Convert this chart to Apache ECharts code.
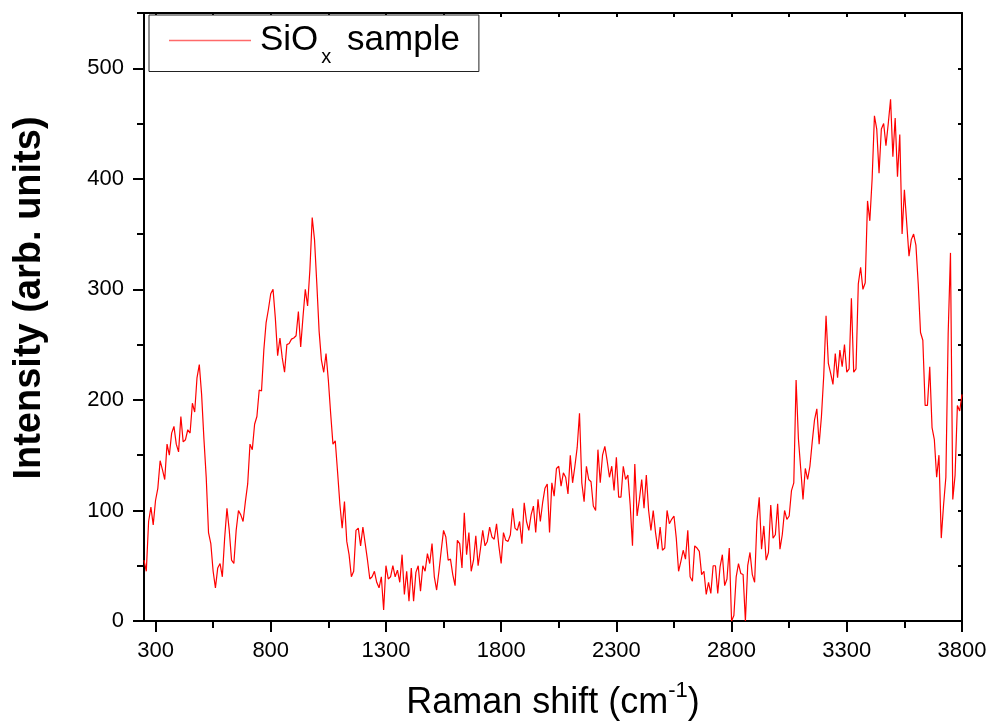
<!DOCTYPE html>
<html>
<head>
<meta charset="utf-8">
<script src="https://cdn.jsdelivr.net/npm/echarts@6/dist/echarts.min.js"></script>
<style>html,body{margin:0;padding:0;background:#fff}#c{width:991px;height:728px}</style>
</head>
<body>
<div id="c"></div>
<script>
// Raman spectrum sampling grid (cm^-1)
const xStart = 250;
const xStep = 10;
const xMin = 250;
const xMax = 3800;
const yMin = 0;
const yMax = 550;

// Intensity values (arb. units), in order along the grid
const seg250to860 = [55,45,90,103,87,109,120,145,137,128,160,150,170,176,160,153,185,162,164,173,170,197,189,220,232,205,165,130,80,70,45,30,48,52,40,75,102,82,55,52,82,100,96,90,108,124,160,155,178,185,209,208,245,270,282,296,300,274,240,256,238,225];
const seg870to1470 = [250,251,255,256,258,280,248,275,300,285,318,365,345,305,262,236,225,242,218,188,160,163,135,106,84,108,72,60,40,45,82,84,68,85,70,55,38,40,45,35,30,40,10,50,38,40,50,40,46,35,60,24,45,18,48,18,44,50,27,50,45];
const seg1480to2080 = [61,52,70,40,28,45,64,82,76,55,56,42,32,73,70,48,98,60,80,45,55,77,50,65,82,68,72,85,76,74,88,68,52,80,73,72,78,102,84,82,90,70,107,90,82,96,104,80,110,90,107,120,124,80,125,113,138,140,122,134,130];
const seg2090to2690 = [115,150,125,140,157,188,125,108,140,128,126,104,100,155,125,150,158,145,130,140,118,148,112,112,140,128,132,105,68,142,95,110,128,102,132,100,82,100,80,65,85,64,66,100,88,92,95,75,45,54,64,56,82,40,36,68,66,63,42,45,24];
const seg2700to3300 = [35,25,50,50,25,49,60,32,38,66,0,5,40,52,43,42,0,50,62,42,35,90,112,65,86,55,62,105,75,78,106,65,78,100,92,95,118,125,218,165,138,110,138,128,140,162,182,192,160,185,222,276,233,224,214,242,220,245,230,250,225];
const seg3310to3800 = [228,292,225,228,305,320,300,306,380,362,400,457,445,405,445,450,430,450,472,420,455,402,440,350,390,360,330,345,350,340,305,261,254,195,195,230,175,164,130,150,75,105,130,260,333,110,132,195,190,205];

// Tick positions
const xMajorTicks = [300,800,1300,1800,2300,2800,3300,3800];
const xMinorTicks = [550,1050,1550,2050,2550,3050,3550];
const xTopTicks = [300,550,800,1050,1300,1550,1800,2050,2300,2550,2800,3050,3300,3550,3800];
const yMajorTicks = [0,100,200,300,400,500];
const yMinorTicks = [50,150,250,350,450,550];
const yRightTicks = [0,50,100,150,200,250,300,350,400,450,500,550];

const seriesName = 'SiOx sample';

const intensity = seg250to860.concat(seg870to1470, seg1480to2080, seg2090to2690, seg2700to3300, seg3310to3800);
const lineData = intensity.map((v, i) => [xStart + i * xStep, v]);

const FONT = 'Arial, "Liberation Sans", sans-serif';
const BLACK = '#000';
const plain = v => String(v);

function blankAxis(extra) {
  return Object.assign({
    type: 'value',
    axisLine: { show: false, onZero: false },
    axisLabel: { show: false },
    splitLine: { show: false },
    silent: true
  }, extra);
}

const chart = echarts.init(document.getElementById('c'), null, { renderer: 'canvas' });
chart.setOption({
  animation: false,
  backgroundColor: '#fff',
  grid: { left: 144, right: 29, top: 13, bottom: 107, outerBoundsMode: 'none' },
  legend: {
    show: true,
    data: [{ name: seriesName, icon: 'rect' }],
    left: 149,
    top: 15,
    orient: 'horizontal',
    backgroundColor: '#fff',
    borderColor: '#222',
    borderWidth: 1,
    borderRadius: 0,
    padding: [8, 19, 4, 20],
    itemWidth: 82,
    itemHeight: 1.3,
    itemStyle: { color: '#ff6a6a', borderWidth: 0 },
    formatter: function () { return '{p|SiO}{b|x}{a| sample}'; },
    textStyle: {
      color: BLACK,
      fontFamily: FONT,
      rich: {
        p: { fontSize: 35, fontFamily: FONT, color: BLACK, padding: [0, 0, 0, 4] },
        b: { fontSize: 20, fontFamily: FONT, color: BLACK, padding: [34, 6, 0, 3] },
        a: { fontSize: 35, fontFamily: FONT, color: BLACK }
      }
    }
  },
  xAxis: [
    {
      type: 'value', position: 'bottom', min: xMin, max: xMax,
      axisLine: { show: true, onZero: false, lineStyle: { color: BLACK, width: 2 } },
      axisTick: { show: true, inside: false, length: 11, customValues: xMajorTicks, lineStyle: { color: BLACK, width: 2 } },
      axisLabel: { show: true, customValues: xMajorTicks, formatter: plain, margin: 19, fontSize: 22, color: BLACK, fontFamily: FONT },
      splitLine: { show: false },
      name: '{n|Raman shift (cm}{s|-1}{n|)}',
      nameLocation: 'middle',
      nameGap: 59,
      nameTextStyle: {
        color: BLACK, fontFamily: FONT,
        rich: {
          n: { fontSize: 36, fontFamily: FONT, color: BLACK },
          s: { fontSize: 22, fontFamily: FONT, color: BLACK, padding: [0, 0, 24, 0] }
        }
      }
    },
    blankAxis({ position: 'bottom', min: xMin, max: xMax,
      axisTick: { show: true, inside: false, length: 7, customValues: xMinorTicks, lineStyle: { color: BLACK, width: 2 } } }),
    blankAxis({ position: 'top', min: xMin, max: xMax,
      axisLine: { show: true, onZero: false, lineStyle: { color: BLACK, width: 2 } },
      axisTick: { show: true, inside: true, length: 4, customValues: xTopTicks, lineStyle: { color: BLACK, width: 2 } } })
  ],
  yAxis: [
    {
      type: 'value', position: 'left', min: yMin, max: yMax,
      axisLine: { show: true, onZero: false, lineStyle: { color: BLACK, width: 2 } },
      axisTick: { show: true, inside: false, length: 11, customValues: yMajorTicks, lineStyle: { color: BLACK, width: 2 } },
      axisLabel: { show: true, customValues: yMajorTicks, formatter: plain, margin: 20, fontSize: 22, color: BLACK, fontFamily: FONT },
      splitLine: { show: false },
      name: 'Intensity (arb. units)',
      nameLocation: 'middle',
      nameGap: 95,
      nameTextStyle: { fontSize: 38, fontWeight: 'bold', color: BLACK, fontFamily: FONT, padding: [0, 0, 0, 38] }
    },
    blankAxis({ position: 'left', min: yMin, max: yMax,
      axisTick: { show: true, inside: false, length: 7, customValues: yMinorTicks, lineStyle: { color: BLACK, width: 2 } } }),
    blankAxis({ position: 'right', min: yMin, max: yMax,
      axisLine: { show: true, onZero: false, lineStyle: { color: BLACK, width: 2 } },
      axisTick: { show: true, inside: true, length: 4, customValues: yRightTicks, lineStyle: { color: BLACK, width: 2 } } })
  ],
  series: [
    {
      type: 'line',
      name: seriesName,
      xAxisIndex: 0,
      yAxisIndex: 0,
      data: lineData,
      symbol: 'none',
      showSymbol: false,
      clip: true,
      lineStyle: { color: '#ff0000', width: 1.2 },
      itemStyle: { color: '#ff0000' },
      emphasis: { disabled: true }
    }
  ]
});
</script>
</body>
</html>
